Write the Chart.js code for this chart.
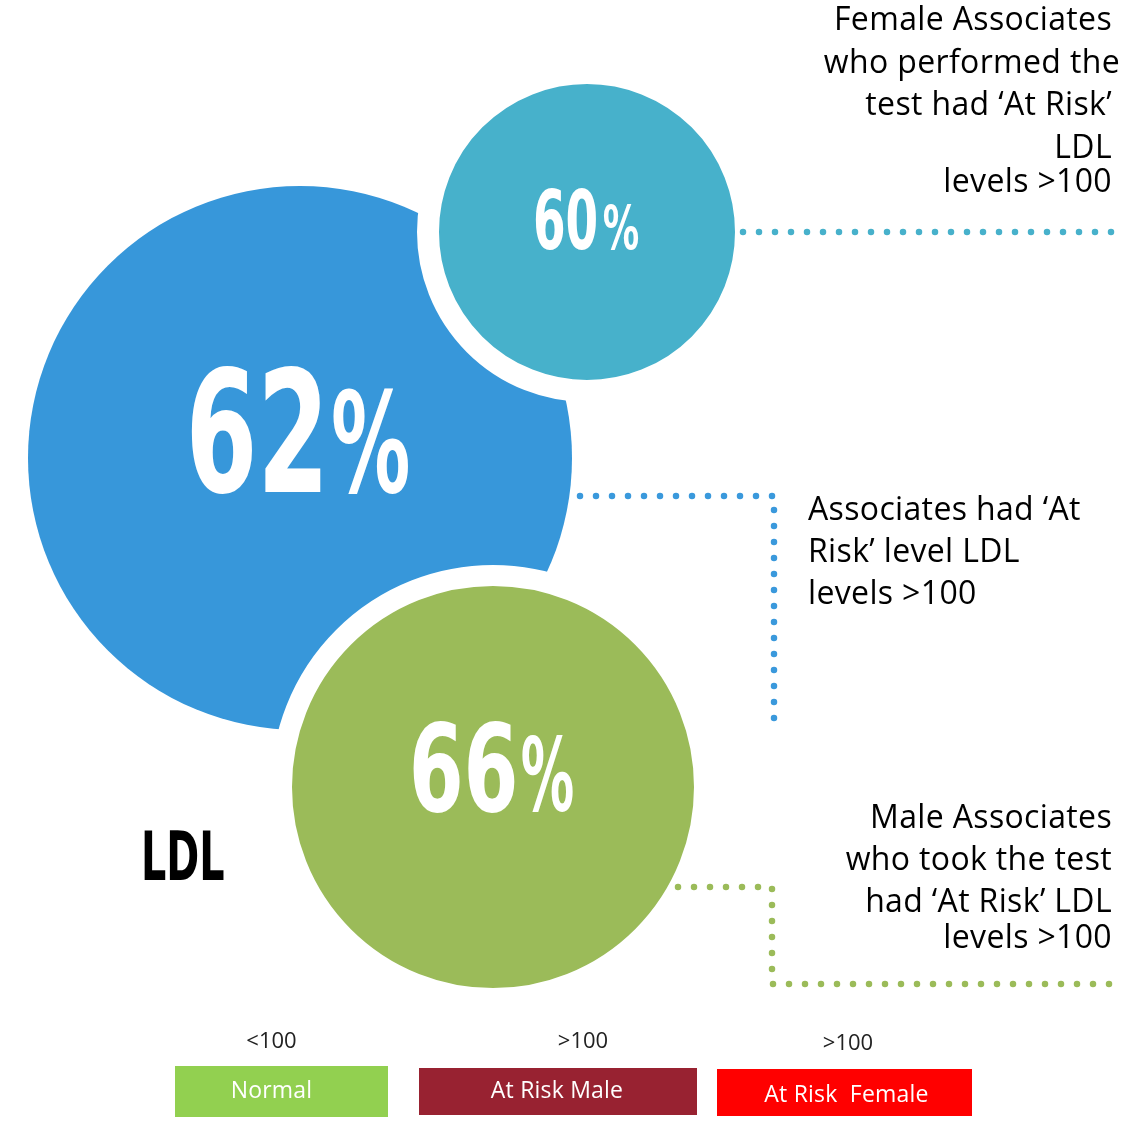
<!DOCTYPE html>
<html><head><meta charset="utf-8">
<script src="https://cdn.jsdelivr.net/npm/chart.js@4.4.1/dist/chart.umd.min.js"></script>
<style>
html,body{margin:0;padding:0;background:#fff;}
#wrap{position:relative;width:1128px;height:1125px;overflow:hidden;}
#wrap canvas{position:absolute;left:0;top:0;}
.t{position:absolute;white-space:pre;font-family:'Open Sans',sans-serif;color:#000;}
.box{position:absolute;}
</style></head><body>
<div id="wrap"><canvas id="c" width="1128" height="1125"></canvas></div>
<script>
// ---------------- DATA ----------------
const categories = ['At Risk (All Associates)', 'At Risk (Female)', 'At Risk (Male)'];
const percentValues = [62, 60, 66];
const legendRanges = ['<100', '>100', '>100'];
const legendLabels = ['Normal', 'At Risk Male', 'At Risk  Female'];
const calloutTexts = [
  ['Associates had \u2018At', 'Risk\u2019 level LDL', 'levels >100'],
  ['Female Associates', 'who performed the', 'test had \u2018At Risk\u2019', 'LDL', 'levels >100'],
  ['Male Associates', 'who took the test', 'had \u2018At Risk\u2019 LDL', 'levels >100']
];
const chartTitle = 'LDL';

// ---------------- LAYOUT / STYLE ----------------
const W = 1128, H = 1125;
const bubbleLayout = [
  {x: 300, y: 458, r: 272, ring: 0},
  {x: 587, y: 232, r: 148, ring: 22},
  {x: 493, y: 787, r: 201, ring: 21}
];
const bubbleColors = ['#3797DA', '#47B1CB', '#9BBB59'];
const connectorColors = ['#3A99DC', '#47B1CB', '#9BBB59'];
const connectorPaths = [
  [[580, 496], [774, 496], [774, 720]],
  [[743, 232], [1112, 232]],
  [[678, 887], [772, 887], [772, 984], [1111, 984]]
];
// percent label geometry per bubble
const pctStyle = [
  {capH: 127, digitsW: 129, gap: 13, pctW: 75, pctH: 104, baseDy: 34},
  {capH: 62,  digitsW: 61,  gap: 7,  pctW: 35, pctH: 46,  baseDy: 17},
  {capH: 91,  digitsW: 102, gap: 7,  pctW: 51, pctH: 76,  baseDy: 24}
];
const calloutLayout = [
  {x: 808, align: 'left', baselines: [520, 562, 604], dx: [0, 0, 0]},
  {x: 1112, align: 'right', baselines: [30, 73, 115, 158, 192], dx: [0, 8, 0, 0, 0]},
  {x: 1112, align: 'right', baselines: [828, 870, 912, 948], dx: [0, 0, 0, 0]}
];
const legendLayout = [
  {x: 175, y: 1066, w: 213, h: 51, color: '#92D050', rangeBase: 1048, textBase: 1098, textDx: -10, rangeDx: -10},
  {x: 419, y: 1068, w: 278, h: 47, color: '#982231', rangeBase: 1048, textBase: 1098, textDx: -1, rangeDx: 25},
  {x: 717, y: 1069, w: 255, h: 47, color: '#FF0000', rangeBase: 1050, textBase: 1102, textDx: 2, rangeDx: 3.5}
];
const condensedFont = "'Liberation Sans Narrow','DejaVu Sans Condensed','Liberation Sans',sans-serif";

const wrap = document.getElementById('wrap');
const mctx = document.createElement('canvas').getContext('2d');

function addLine(text, x, baseline, size, align, color, spacing) {
  const d = document.createElement('div');
  d.className = 't';
  d.textContent = text;
  d.style.fontSize = size + 'px';
  d.style.lineHeight = size + 'px';
  d.style.letterSpacing = (spacing || 0) + 'px';
  d.style.top = (baseline - 0.887 * size) + 'px';
  d.style.color = color || '#000';
  if (align === 'left') { d.style.left = x + 'px'; }
  else if (align === 'right') { d.style.right = (W - x) + 'px'; d.style.textAlign = 'right'; }
  else { d.style.left = (x - 200) + 'px'; d.style.width = '400px'; d.style.textAlign = 'center'; }
  wrap.appendChild(d);
  return d;
}

// callouts
calloutTexts.forEach((lines, i) => {
  const L = calloutLayout[i];
  lines.forEach((ln, j) => addLine(ln, L.x + L.dx[j], L.baselines[j], 32, L.align, '#000', 0.35));
});

// legend boxes
legendLabels.forEach((lab, i) => {
  const L = legendLayout[i];
  const b = document.createElement('div');
  b.className = 'box';
  Object.assign(b.style, {left: L.x + 'px', top: L.y + 'px', width: L.w + 'px', height: L.h + 'px', background: L.color});
  wrap.appendChild(b);
  addLine(lab, L.x + L.w / 2 + L.textDx, L.textBase, 23, 'center', '#fff', 0.2);
  addLine(legendRanges[i], L.x + L.w / 2 + L.rangeDx, L.rangeBase, 22, 'center', '#222');
});

// LDL title (condensed bold, fitted)
(function () {
  const capH = 50, targetW = 79, left = 141, baseline = 880;
  mctx.font = "bold 100px " + condensedFont;
  const m = mctx.measureText(chartTitle);
  const size = capH * 100 / m.actualBoundingBoxAscent;
  const inkW = (m.actualBoundingBoxLeft + m.actualBoundingBoxRight) * size / 100;
  const sx = targetW / inkW;
  const d = document.createElement('div');
  d.className = 't';
  d.textContent = chartTitle;
  Object.assign(d.style, {
    fontFamily: condensedFont, fontWeight: 'bold', fontSize: size + 'px', lineHeight: size + 'px',
    left: left + 'px', top: (baseline - 0.8465 * size) + 'px', transformOrigin: '0 0',
    transform: 'scaleX(' + sx + ')', color: '#000'
  });
  wrap.appendChild(d);
})();

// percent labels plugin
function drawFitted(ctx, text, left, baseline, capH, width) {
  ctx.font = "bold 100px " + condensedFont;
  const m = ctx.measureText(text);
  const size = capH * 100 / m.actualBoundingBoxAscent;
  ctx.font = "bold " + size + "px " + condensedFont;
  const m2 = ctx.measureText(text);
  const inkW = m2.actualBoundingBoxLeft + m2.actualBoundingBoxRight;
  const sx = width / inkW;
  ctx.save();
  ctx.translate(left + m2.actualBoundingBoxLeft * sx, baseline);
  ctx.scale(sx, 1);
  ctx.textBaseline = 'alphabetic';
  ctx.textAlign = 'left';
  ctx.fillText(text, 0, 0);
  ctx.restore();
}
const pctPlugin = {
  id: 'pctLabels',
  afterDatasetsDraw(chart) {
    const ctx = chart.ctx;
    const meta = chart.getDatasetMeta(0);
    meta.data.forEach((el, i) => {
      const s = pctStyle[i];
      const total = s.digitsW + s.gap + s.pctW;
      const left = el.x - total / 2;
      const base = el.y + s.baseDy;
      ctx.fillStyle = '#ffffff';
      drawFitted(ctx, String(percentValues[i]), left, base, s.capH, s.digitsW);
      drawFitted(ctx, '%', left + s.digitsW + s.gap, base, s.pctH, s.pctW);
    });
  }
};

new Chart(document.getElementById('c'), {
  type: 'bubble',
  data: {
    labels: categories,
    datasets: [
      {
        label: 'LDL At Risk',
        data: bubbleLayout.map((b, i) => ({x: b.x, y: b.y, r: b.r + b.ring / 2, v: percentValues[i]})),
        backgroundColor: bubbleColors,
        hoverBackgroundColor: bubbleColors,
        borderColor: '#ffffff',
        hoverBorderColor: '#ffffff',
        borderWidth: bubbleLayout.map(b => b.ring),
        hoverBorderWidth: bubbleLayout.map(b => b.ring),
        hoverRadius: 0,
        clip: false,
        order: 1
      },
      ...connectorPaths.map((p, i) => ({
        type: 'line',
        label: categories[i] + ' connector',
        data: p.map(([x, y]) => ({x, y})),
        borderColor: connectorColors[i],
        borderWidth: 6.5,
        borderDash: [0, 16],
        borderCapStyle: 'round',
        borderJoinStyle: 'round',
        pointRadius: 0,
        fill: false,
        tension: 0,
        clip: false,
        order: 0
      }))
    ]
  },
  options: {
    responsive: false,
    animation: false,
    events: [],
    layout: {padding: 0, autoPadding: false},
    plugins: {legend: {display: false}, tooltip: {enabled: false}},
    scales: {
      x: {type: 'linear', min: 0, max: W, display: false},
      y: {type: 'linear', min: 0, max: H, reverse: true, display: false}
    }
  },
  plugins: [pctPlugin]
});
</script>
</body></html>
